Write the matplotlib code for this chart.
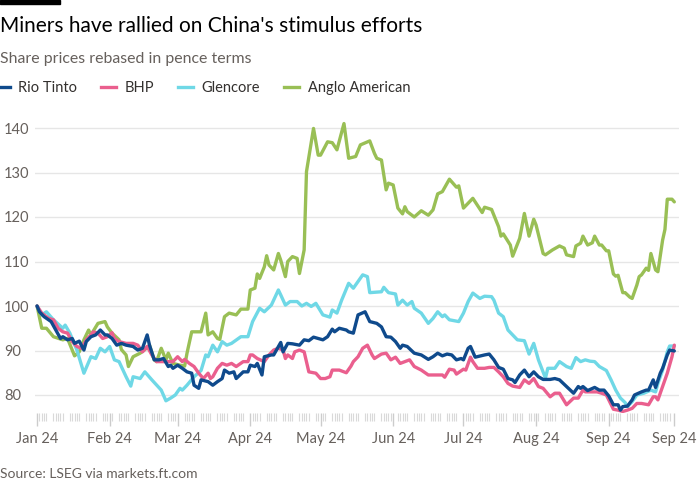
import numpy as np
import pandas as pd
import matplotlib
matplotlib.use('Agg')
import matplotlib.pyplot as plt
import matplotlib.dates as mdates
from matplotlib.patches import Rectangle

plt.rcParams['font.family'] = ['Lato', 'DejaVu Sans']

# Days since 1 Jan 2024, values rebased to 100
anglo_days = [0, 2, 4, 7, 11, 13, 16, 18, 20, 22, 23, 26, 29, 30, 32, 35, 36, 38, 39, 41,
              44, 46, 48, 50, 51, 53, 55, 56, 58, 61, 63, 64, 66, 70, 72, 73, 75, 77, 78, 80,
              82, 85, 87, 90, 91, 93, 94, 95, 97, 98, 99, 101, 103, 104, 106, 107, 109, 111, 112, 114,
              115, 118, 120, 121, 124, 126, 128, 131, 133, 136, 138, 142, 144, 145, 147, 149, 150, 152, 154, 156,
              157, 158, 161, 164, 167, 169, 171, 173, 176, 179, 180, 182, 184, 186, 190, 191, 194, 197, 198, 199,
              202, 203, 206, 208, 210, 212, 213, 216, 217, 220, 223, 225, 226, 229, 230, 232, 233, 235, 237, 238,
              240, 241, 243, 244, 246, 247, 248, 250, 251, 253, 254, 256, 257, 258, 260, 261, 262, 264, 265, 267,
              268, 269, 271, 272]
anglo = [100, 95, 95, 93.1, 92.4, 92.7, 88.8, 89.7, 92.4, 94.6, 93.5, 96.1, 96.5, 95.3, 93.9, 92.4, 90.2, 89, 86.4, 88.6,
         89.4, 90.2, 91.2, 87.9, 87.5, 90.5, 87.9, 89.4, 87.1, 86.7, 86.5, 89.4, 94.2, 94.2, 98.4, 93.5, 94.2, 92.7, 92.5, 97.6,
         98.4, 98, 99.3, 99.3, 103.6, 104, 107.2, 106.2, 108.8, 111.3, 109.2, 108.1, 111.8, 110.3, 106.6, 110, 111.1, 110.7, 107.3, 112.6,
         130.2, 139.9, 133.9, 133.9, 136.9, 136.7, 135.1, 141, 133.2, 133.6, 136.2, 137.1, 134.3, 133.2, 132.8, 126.1, 127.6, 127.2, 122, 120.7,
         122.3, 121.2, 120, 121.4, 120.4, 121.6, 125.2, 125.7, 128.5, 126.7, 127, 122, 123.1, 124.2, 121, 122.2, 121.7, 117.8, 115.7, 116.2,
         113.7, 111.2, 115.2, 120.8, 115.7, 119.5, 118.2, 111.8, 111.5, 112.6, 113.5, 113, 111.5, 111.1, 113.5, 114.1, 115.7, 113.7, 114.2, 115.7,
         113.7, 113.7, 112.4, 112.4, 107.2, 106.7, 106.9, 103, 103, 102, 101.7, 104.7, 106.6, 107, 108.5, 108, 111.8, 108.1, 107.7, 114.8,
         117.2, 124, 124, 123.4]

glencore_days = [0, 2, 4, 7, 11, 12, 14, 17, 20, 23, 25, 27, 29, 31, 33, 35, 38, 40, 41, 44,
                 46, 49, 53, 55, 57, 59, 61, 62, 64, 67, 70, 72, 73, 75, 77, 79, 81, 83, 87, 90,
                 92, 95, 97, 100, 103, 104, 106, 108, 111, 113, 115, 117, 119, 122, 125, 126, 128, 130, 133, 135,
                 139, 141, 142, 147, 148, 150, 153, 154, 156, 158, 160, 161, 164, 167, 169, 171, 173, 174, 176, 180,
                 182, 184, 186, 189, 191, 194, 195, 197, 199, 201, 203, 205, 208, 210, 212, 214, 217, 218, 221, 223,
                 226, 228, 230, 232, 234, 236, 238, 240, 243, 245, 247, 249, 251, 252, 254, 256, 259, 262, 264, 265,
                 267, 269, 270, 272]
glencore = [100, 98, 98.7, 96.9, 95, 95.7, 93.9, 90.1, 84.9, 88.6, 88.2, 90.5, 89.7, 90.9, 87.9, 87.5, 84.1, 82, 84.1, 83.7,
            85.2, 83.4, 81.1, 78.7, 79.3, 80, 81.5, 81.1, 82.2, 84.1, 85.5, 89, 88.6, 91.2, 89.7, 92, 91.2, 91.6, 93.1, 93.1,
            96.5, 99.5, 98.7, 100.2, 103.6, 102.5, 100.2, 101, 101, 100, 100.6, 99.9, 100.6, 98, 97.5, 99.1, 98.4, 101.3, 105.1, 104,
            107, 106.6, 103, 103.2, 104.2, 103, 102.7, 100.2, 101.3, 100.2, 101, 99.5, 98.4, 96.1, 97.2, 98.7, 97.6, 98, 96.9, 96.5,
            98.4, 101, 102.9, 101.7, 102.2, 102.1, 101.3, 98.4, 97.6, 94.6, 93.5, 92.4, 92.2, 89.2, 91.6, 87.9, 83.8, 86, 86, 87.5,
            86.4, 86, 88.4, 87.5, 87.9, 87.6, 87.5, 86.4, 85.5, 83.4, 81.1, 79.3, 78.3, 77.4, 78.5, 80, 80.4, 81.1, 80.7, 82.6,
            85.6, 89.7, 91, 91]

rio_days = [0, 1, 3, 6, 8, 10, 11, 13, 15, 16, 18, 20, 21, 23, 25, 27, 29, 30, 32, 34,
            36, 38, 41, 43, 45, 47, 48, 50, 52, 54, 56, 57, 58, 60, 62, 64, 66, 67, 69, 70,
            73, 75, 77, 79, 80, 82, 84, 85, 88, 90, 91, 93, 94, 96, 97, 100, 101, 103, 104, 105,
            107, 109, 112, 114, 116, 118, 120, 122, 124, 126, 127, 129, 132, 133, 135, 137, 140, 142, 145, 147,
            149, 151, 153, 155, 156, 158, 161, 164, 167, 169, 171, 173, 175, 177, 179, 181, 182, 184, 185, 187,
            191, 193, 195, 197, 199, 201, 203, 204, 206, 208, 210, 212, 214, 216, 219, 221, 223, 226, 229, 231,
            232, 233, 235, 238, 240, 242, 244, 246, 248, 249, 250, 252, 254, 255, 258, 260, 261, 263, 264, 266,
            267, 269, 270, 272]
rio = [100, 98.7, 97.6, 96.5, 94.6, 92.7, 93.1, 92.4, 92.7, 91.6, 92.1, 90.1, 92, 93.1, 93.5, 94.6, 93.5, 93.5, 92.7, 91.2,
       91.6, 91.2, 90.9, 90.1, 90.5, 93.5, 91.2, 87.9, 87.9, 88.2, 86.4, 86.7, 86, 86.7, 86, 85.2, 84.9, 82.2, 81.5, 83.4,
       83, 82.2, 83, 83.7, 85.6, 84.9, 85.2, 83.7, 85.2, 85.2, 86.7, 86.4, 87.1, 84.5, 88.6, 89, 89, 90.9, 91.8, 89.7,
       91.6, 91.5, 91.2, 92.4, 92.2, 93, 92.7, 92.4, 93.1, 94.8, 94.2, 95, 94.6, 94.2, 93.9, 98, 98.7, 96.5, 96.1, 95.3,
       93.1, 93, 92, 90.5, 91.2, 90.9, 89.4, 89, 88, 88.6, 89.4, 88.8, 89.2, 89, 87.9, 88.2, 87.9, 90.5, 90.9, 88.5,
       89, 89.2, 87.9, 86.2, 85.8, 83.7, 83.4, 82.8, 84.5, 85.6, 84.1, 85.2, 84.1, 83.5, 83.5, 83.7, 83.4, 81.9, 80.4, 81.9,
       81.5, 81.9, 81, 81.7, 81.1, 81.1, 79.8, 77.8, 77.8, 76.6, 77.4, 77.5, 78.9, 80, 80.7, 81.1, 81.1, 83.4, 81.7, 84.9,
       86, 89, 90.1, 89.9]

bhp_days = [0, 2, 5, 7, 9, 11, 13, 15, 17, 19, 21, 23, 24, 26, 28, 30, 32, 33, 35, 38,
            41, 43, 45, 47, 49, 51, 53, 56, 58, 60, 62, 63, 65, 67, 69, 71, 73, 74, 75, 77,
            79, 81, 83, 85, 88, 90, 91, 92, 94, 97, 99, 101, 103, 105, 106, 107, 109, 110, 112, 114,
            116, 119, 121, 123, 125, 126, 129, 132, 134, 135, 137, 139, 141, 143, 144, 147, 149, 151, 153, 155,
            157, 159, 161, 164, 167, 169, 173, 174, 176, 178, 179, 182, 183, 185, 186, 188, 191, 193, 195, 197,
            199, 201, 203, 206, 208, 210, 212, 214, 216, 219, 221, 223, 226, 229, 231, 233, 234, 236, 239, 241,
            243, 246, 248, 250, 252, 254, 256, 258, 261, 263, 264, 265, 267, 269, 271, 272]
bhp = [100, 98.4, 97.2, 96.9, 95, 94.2, 93.9, 92, 90.9, 90.5, 92.4, 93.5, 94.2, 93.9, 92.7, 93.1, 94, 92.7, 92, 91.6,
       91.6, 91.2, 89.7, 90.9, 89, 87.5, 87.5, 87.5, 87.5, 88.6, 87.5, 88, 87.1, 86.4, 84.9, 83.7, 84.9, 83.7, 84.1, 86,
       87.1, 86.7, 87.1, 86.4, 87.5, 87.5, 89, 89, 88.2, 87.5, 89, 90.1, 90.5, 90.1, 88.2, 89, 88.2, 89.7, 90.1, 89.7,
       85.2, 84.9, 83.7, 83.7, 84.1, 85.6, 85.6, 85, 86.5, 87.5, 88.6, 90.5, 91.2, 89, 88.2, 89.2, 89.4, 87.9, 88.5, 87.1,
       87.5, 87.9, 86.4, 85.6, 84.5, 84.5, 84.5, 84, 85.8, 85.6, 84.7, 85.8, 85.6, 88.5, 87.5, 86, 86, 86.2, 86.2, 85.2,
       84.1, 82.6, 82, 81.7, 83.4, 82.6, 83.7, 81.9, 81.5, 79.6, 80.4, 80.4, 77.8, 79.3, 79.3, 81.1, 80.7, 80.7, 80.7, 80.4,
       80, 76.8, 76.6, 76.3, 76.6, 77, 78.1, 78.1, 77.8, 79.6, 79.6, 78.9, 81.9, 84.9, 88.6, 91.2]

series_names = ['Rio Tinto', 'BHP', 'Glencore', 'Anglo American']
series_colors = ['#0f4a8c', '#ea5f8e', '#6fd8e6', '#99bf55']

START = pd.Timestamp('2024-01-01')
END_DAY = 272


def to_dates(days):
    return START + pd.to_timedelta(days, unit='D')


fig = plt.figure(figsize=(7, 5), dpi=100)
ax = fig.add_axes([0.0496, 0.1744, 0.9204, 0.5874])

# drawn back to front: Anglo, Glencore, BHP, Rio Tinto
plot_order = [(anglo_days, anglo, 3), (glencore_days, glencore, 2), (bhp_days, bhp, 1), (rio_days, rio, 0)]
for days, vals, idx in plot_order:
    ax.plot(to_dates(days), vals, color=series_colors[idx], linewidth=2.4,
            solid_joinstyle='round', solid_capstyle='round', zorder=3 + (3 - idx))

ax.set_ylim(76, 142)
ax.set_xlim(START - pd.Timedelta(days=1), START + pd.Timedelta(days=274))
ax.set_yticks([80, 90, 100, 110, 120, 130, 140])
ax.grid(axis='y', color='#e6e6e6', linewidth=1)
ax.set_axisbelow(True)
for s in ax.spines.values():
    s.set_visible(False)

ax.tick_params(axis='y', length=0, pad=22, labelsize=10.5, labelcolor='#66605c')
for lab in ax.get_yticklabels():
    lab.set_horizontalalignment('left')

month_ticks = list(pd.date_range('2024-01-01', '2024-09-01', freq='MS')) + [to_dates([END_DAY])[0]]
ax.set_xticks(month_ticks)
ax.set_xticklabels([d.strftime('%b %y') for d in month_ticks])
ax.set_xticks(pd.bdate_range('2024-01-01', to_dates([END_DAY])[0]), minor=True)
ax.tick_params(axis='x', which='major', length=9, width=1, color='#cccccc', pad=5,
               labelsize=10.5, labelcolor='#66605c')
ax.tick_params(axis='x', which='minor', length=6, width=0.8, color='#d9d9d9')

fig.patches.append(Rectangle((0, 0.992), 60 / 700, 0.008, transform=fig.transFigure,
                             color='black', zorder=5))
fig.text(0.0, 0.9366, "Miners have rallied on China's stimulus efforts", fontsize=15,
         color='#000000', va='baseline', ha='left')
fig.text(0.0, 0.8746, 'Share prices rebased in pence terms', fontsize=11.4,
         color='#66605c', va='baseline', ha='left')

handles = [plt.Line2D([], [], color=c, linewidth=2.4) for c in series_colors]
fig.legend(handles, series_names, loc='center left', bbox_to_anchor=(-0.008, 0.824), ncol=4,
           frameon=False, fontsize=10.5, handlelength=1.05, handletextpad=0.6,
           columnspacing=1.6, labelcolor='#33302e', borderaxespad=0, borderpad=0)

fig.text(0.0, 0.044, 'Source: LSEG via markets.ft.com', fontsize=10,
         color='#66605c', va='baseline', ha='left')

fig.savefig('out.png', dpi=100)
